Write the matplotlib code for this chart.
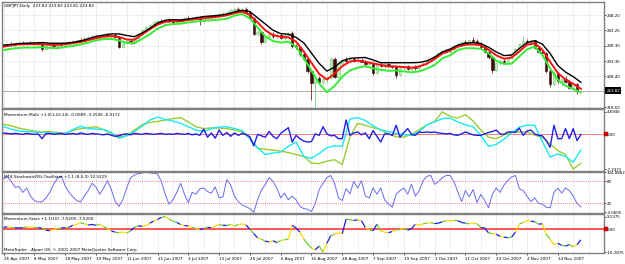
import numpy as np
import matplotlib
matplotlib.use("Agg")
import matplotlib.pyplot as plt
import matplotlib.transforms as mtransforms
from matplotlib.collections import LineCollection

plt.rcParams['font.family'] = ['DejaVu Sans']

# ---------------- data ----------------
opens = [238.3, 238.6, 238.9, 238.5, 238.8, 239.3, 238.9, 239.2, 239.0, 238.7,
         238.9, 237.3, 238.4, 238.6, 238.3, 238.8, 238.6, 239.1, 239.4, 239.8,
         240.2, 239.9, 240.7, 241.0, 241.3, 240.9, 241.6, 241.8, 241.5, 241.9,
         241.2, 238.0, 239.2, 239.8, 239.4, 240.8, 242.0, 243.3, 244.3, 245.1,
         245.9, 246.3, 246.1, 246.5, 246.2, 246.0, 246.6, 246.9, 247.2, 246.8,
         247.3, 247.5, 246.2, 247.4, 247.8, 247.6, 248.2, 248.6, 248.9, 249.3,
         249.7, 250.1, 249.9, 250.2, 249.1, 247.2, 242.0, 242.8, 239.5, 241.2,
         242.0, 241.3, 241.9, 240.8, 241.7, 242.4, 238.2, 238.0, 235.5, 234.0,
         230.0, 226.4, 228.0, 226.6, 227.6, 227.9, 234.0, 228.3, 232.6, 233.8,
         233.4, 233.9, 233.5, 233.8, 233.1, 232.4, 232.8, 229.6, 232.2, 231.8,
         232.3, 231.6, 231.4, 229.0, 231.2, 231.6, 230.8, 231.5, 231.0, 232.1,
         232.7, 233.5, 234.2, 235.1, 235.9, 236.6, 236.3, 237.2, 238.1, 238.8,
         239.5, 239.1, 240.2, 239.8, 238.9, 237.8, 236.3, 234.5, 230.4, 232.8,
         233.5, 233.1, 234.4, 235.6, 237.2, 238.7, 239.9, 239.4, 240.0, 237.7,
         236.4, 236.0, 230.1, 226.0, 229.4, 226.8, 227.6, 226.6, 224.8, 226.1,
         223.82]
highs = [238.9, 239.2, 239.4, 239.1, 239.6, 239.7, 239.5, 239.8, 239.6, 239.3,
         239.2, 238.6, 239.0, 239.1, 239.0, 239.3, 239.4, 239.7, 240.2, 240.6,
         240.9, 241.0, 241.4, 241.8, 241.9, 241.9, 242.3, 242.5, 242.4, 242.3,
         241.5, 239.6, 240.2, 240.4, 241.0, 242.3, 243.6, 244.6, 245.4, 246.3,
         246.7, 246.9, 246.8, 247.1, 246.8, 246.9, 247.3, 247.6, 247.8, 247.5,
         247.9, 247.9, 247.6, 248.0, 248.3, 248.5, 248.9, 249.2, 249.6, 250.0,
         250.5, 250.8, 250.6, 250.7, 249.4, 247.6, 243.3, 243.0, 241.6, 242.4,
         242.6, 242.3, 242.5, 242.2, 242.8, 242.9, 239.0, 238.3, 235.9, 234.4,
         230.6, 228.8, 228.6, 228.0, 228.4, 234.5, 234.6, 233.0, 234.4, 234.6,
         234.2, 234.5, 234.3, 234.4, 233.8, 233.2, 233.1, 232.6, 232.9, 232.6,
         232.8, 232.2, 231.8, 231.6, 232.0, 232.2, 231.9, 232.0, 232.4, 233.0,
         233.8, 234.5, 235.4, 236.2, 237.0, 237.3, 237.6, 238.4, 239.2, 239.9,
         240.3, 240.6, 241.2, 240.5, 239.6, 238.3, 236.8, 235.0, 233.2, 234.0,
         234.3, 234.6, 235.8, 237.5, 239.0, 241.3, 240.6, 240.4, 240.3, 238.2,
         237.0, 236.4, 230.9, 230.0, 229.8, 228.0, 228.4, 227.4, 226.6, 226.4,
         223.83]
lows = [237.8, 238.2, 238.3, 238.0, 238.4, 238.6, 238.5, 238.7, 238.4, 238.0,
        236.6, 237.0, 237.9, 238.0, 237.8, 238.3, 238.2, 238.6, 239.0, 239.3,
        239.6, 239.5, 240.1, 240.5, 240.6, 240.5, 241.0, 241.2, 240.8, 240.9,
        237.4, 237.6, 238.7, 238.9, 239.0, 240.5, 241.8, 243.0, 243.8, 244.7,
        245.2, 245.7, 245.5, 245.9, 245.6, 245.5, 246.1, 246.3, 246.6, 246.2,
        246.7, 245.0, 245.8, 246.9, 247.2, 247.1, 247.7, 248.0, 248.3, 248.8,
        249.2, 249.5, 249.1, 248.8, 246.8, 241.6, 241.5, 239.0, 239.1, 240.6,
        240.9, 240.7, 240.4, 240.3, 241.0, 237.7, 237.3, 235.0, 233.6, 229.5,
        220.8, 218.6, 226.0, 225.8, 226.4, 227.4, 227.8, 227.9, 232.0, 233.0,
        232.7, 233.2, 232.8, 233.0, 232.0, 231.8, 229.0, 229.2, 231.4, 231.2,
        231.3, 231.0, 227.8, 228.6, 230.6, 230.3, 230.2, 230.5, 230.6, 231.6,
        232.2, 233.0, 233.8, 234.6, 235.3, 235.8, 235.9, 236.8, 237.6, 238.3,
        238.8, 238.7, 239.5, 238.6, 237.4, 235.9, 234.0, 229.4, 230.0, 232.2,
        232.6, 232.7, 234.0, 235.2, 236.7, 238.2, 238.9, 238.6, 237.2, 235.8,
        235.5, 229.6, 225.0, 225.6, 226.2, 225.4, 226.3, 224.4, 224.2, 222.6,
        223.81]
closes = [238.6, 238.9, 238.5, 238.8, 239.3, 238.9, 239.2, 239.0, 238.7, 238.9,
          237.3, 238.4, 238.6, 238.3, 238.8, 238.6, 239.1, 239.4, 239.8, 240.2,
          239.9, 240.7, 241.0, 241.3, 240.9, 241.6, 241.8, 241.5, 241.9, 241.2,
          238.0, 239.2, 239.8, 239.4, 240.8, 242.0, 243.3, 244.3, 245.1, 245.9,
          246.3, 246.1, 246.5, 246.2, 246.0, 246.6, 246.9, 247.2, 246.8, 247.3,
          247.5, 246.2, 247.4, 247.8, 247.6, 248.2, 248.6, 248.9, 249.3, 249.7,
          250.1, 249.9, 250.2, 249.1, 247.2, 242.0, 242.8, 239.5, 241.2, 242.0,
          241.3, 241.9, 240.8, 241.7, 242.4, 238.2, 238.0, 235.5, 234.0, 230.0,
          226.4, 228.0, 226.6, 227.6, 227.9, 234.0, 228.3, 232.6, 233.8, 233.4,
          233.9, 233.5, 233.8, 233.1, 232.4, 232.8, 229.6, 232.2, 231.8, 232.3,
          231.6, 231.4, 229.0, 231.2, 231.6, 230.8, 231.5, 231.0, 232.1, 232.7,
          233.5, 234.2, 235.1, 235.9, 236.6, 236.3, 237.2, 238.1, 238.8, 239.5,
          239.1, 240.2, 239.8, 238.9, 237.8, 236.3, 234.5, 230.4, 232.8, 233.5,
          233.1, 234.4, 235.6, 237.2, 238.7, 239.9, 239.4, 240.0, 237.7, 236.4,
          236.0, 230.1, 226.0, 229.4, 226.8, 227.6, 226.6, 224.8, 226.1, 223.8,
          223.82]

# envelope lines, one value every second bar
ma_black = [238.5, 238.7, 239.0, 239.1, 239.2, 239.3, 239.1, 239.1, 239.1, 239.4,
            239.8, 240.5, 241.3, 241.7, 242.1, 242.1, 241.6, 241.2, 242.4, 243.9,
            245.6, 246.5, 246.7, 246.6, 246.9, 247.3, 247.7, 247.9, 248.1, 248.5,
            249.2, 249.7, 249.3, 247.3, 245.3, 243.3, 242.2, 242.0, 241.0, 239.2,
            235.9, 232.6, 230.1, 231.4, 233.4, 234.2, 234.4, 234.5, 233.7, 232.8,
            232.8, 232.8, 232.8, 232.8, 232.9, 233.4, 234.6, 236.3, 237.2, 238.5,
            239.1, 239.3, 239.0, 237.8, 236.3, 235.1, 235.3, 237.4, 239.3, 239.9,
            238.8, 235.8, 231.9, 229.8, 228.3, 226.5]
ma_red = [238.0, 238.4, 238.7, 238.8, 238.8, 238.8, 238.6, 238.6, 238.8, 239.1,
          239.5, 240.1, 240.7, 241.2, 241.4, 241.1, 240.3, 240.2, 241.9, 243.6,
          245.1, 246.0, 246.2, 246.2, 246.6, 246.9, 247.2, 247.4, 247.7, 248.1,
          248.8, 249.3, 248.2, 245.8, 243.3, 241.7, 241.2, 241.0, 239.6, 236.4,
          232.8, 229.2, 227.4, 229.3, 231.7, 233.2, 233.5, 233.1, 232.6, 232.1,
          231.6, 231.6, 231.4, 231.2, 231.6, 232.5, 234.0, 235.8, 236.7, 238.0,
          238.6, 238.7, 238.5, 237.0, 235.2, 234.1, 234.5, 236.4, 238.6, 239.1,
          237.0, 233.1, 229.5, 227.4, 226.0, 224.4]
ma_green = [236.9, 237.3, 237.6, 237.7, 237.7, 237.8, 237.6, 237.5, 237.9, 238.2,
            238.7, 239.3, 240.0, 240.4, 240.5, 240.0, 239.2, 239.1, 240.5, 242.0,
            243.8, 244.9, 245.3, 245.4, 245.8, 246.1, 246.4, 246.5, 246.7, 247.0,
            248.0, 248.5, 247.1, 244.2, 241.3, 239.8, 239.3, 239.6, 238.0, 234.3,
            230.3, 226.1, 223.3, 225.3, 228.3, 230.3, 231.2, 231.7, 231.0, 230.5,
            230.2, 230.3, 230.0, 229.7, 230.0, 230.9, 232.1, 234.2, 235.2, 236.9,
            237.5, 237.5, 237.3, 235.9, 233.5, 232.4, 232.5, 234.8, 237.1, 238.0,
            235.3, 231.0, 227.3, 225.4, 224.3, 223.2]

# Momentum-Multi: period 1 (every bar), periods 10 / 14 (every second bar)
mom_1 = [0.3, 0.2, 0.1, 0.2, 0.1, 0.0, 0.2, 0.1, 0.0, 0.1,
         -0.9, 0.1, 0.2, 0.0, 0.1, 0.2, 0.0, 0.1, 0.2, 0.0,
         0.3, 0.1, 0.0, 0.2, 0.1, 0.0, -0.1, 0.1, -0.2, -0.4,
         -0.3, 0.0, 0.1, -0.1, 0.2, 0.1, 0.0, 0.2, 0.1, 0.0,
         0.1, 0.2, 0.0, 0.1, 0.0, 0.2, 0.1, 0.0, 0.2, -0.1,
         0.1, -0.2, 1.1, -0.6, 0.3, -0.8, 0.9, -0.2, 0.4, -0.4,
         0.3, -0.2, 0.2, 0.0, -0.5, -2.4, 0.0, -0.3, -0.6, 0.6,
         -0.4, -0.9, 0.2, 0.8, 1.4, -1.6, -0.2, -0.9, -1.4, -1.6,
         -1.5, 0.1, -0.2, 1.6, 0.1, -0.3, -0.2, -0.9, -0.9, 3.0,
         -0.2, 0.3, 0.5, -0.1, 0.3, -0.9, 0.8, -0.4, -1.6, 0.1,
         0.1, -0.2, 1.9, -0.6, 0.4, 1.2, 0.0, -0.2, 0.5, 0.4,
         0.5, 0.4, 0.5, 0.3, 0.2, 0.1, 0.2, -0.1, -0.2, 0.1,
         0.5, 0.2, -0.1, -0.2, -0.2, 0.1, 0.4, 0.6, 0.9, 0.1,
         0.0, 0.5, 0.5, 0.4, 1.3, -0.2, 0.7, 0.9, 0.1, -0.2,
         -0.3, -1.3, -2.7, 1.9, -0.9, -0.9, 1.2, -0.9, 1.2, -1.3,
         -0.0089]
mom_10 = [1.6, 1.1, 0.7, 0.6, 0.5, 0.4, 0.3, 0.2, 0.15, 1.0,
          1.7, 1.2, 1.1, 1.0, 0.4, -0.8, -0.3, 0.6, 1.7, 3.0,
          3.6, 3.1, 2.8, 2.3, 1.6, 0.9, 0.6, 1.2, 1.5, 1.6,
          1.2, 0.8, -0.9, -2.8, -4.2, -3.9, -3.7, -2.5, -1.6, -4.6,
          -5.0, -4.0, -2.8, -2.4, -2.5, 3.2, 3.5, 2.9, 1.8, 0.9,
          0.6, 0.2, -0.1, -0.2, 0.6, 2.0, 2.6, 3.3, 3.4, 2.6,
          2.0, 1.6, -0.3, -2.5, -2.1, -1.0, 0.3, 1.5, 1.9, 1.9,
          -1.5, -4.7, -4.1, -4.6, -5.8, -3.2506]
mom_14 = [2.1, 1.8, 1.3, 1.0, 0.7, 0.5, 0.6, 0.4, 0.2, 0.8,
          1.2, 1.4, 1.6, 1.0, 0.2, -0.6, -0.2, 0.9, 2.0, 2.5,
          2.7, 3.0, 3.3, 3.5, 2.6, 1.6, 1.2, 1.35, 1.3, 1.2,
          0.9, 0.5, -0.9, -2.9, -3.1, -3.3, -3.5, -3.8, -4.2, -4.6,
          -6.0, -6.1, -5.6, -5.3, -6.3, -0.5, 2.3, 1.9, 1.4, 1.0,
          0.1, -0.5, -0.6, 0.0, 1.0, 2.0, 2.7, 4.6946, 3.8, 3.4,
          4.1, 2.8, 0.9, -0.6, -0.9, -0.1, 0.5, 0.5, 0.5, -0.2,
          -0.6, -2.0, -3.4, -4.2, -7.2471, -6.0172]

stoch_rsi = [87, 93, 80, 64, 66, 50, 62, 40, 28, 24,
             24, 35, 50, 72, 88, 95, 68, 50, 38, 28,
             24, 40, 55, 75, 65, 45, 62, 82, 58, 25,
             12, 30, 62, 90, 97, 101, 103, 104.8862, 103, 102,
             100, 80, 45, 18, 30, 50, 75, 45, 22, 50,
             45, 60, 62, 52, 48, 65, 35, 38, 85, 70,
             40, 25, 16, 11, 6, -4.0605, 30, 56, 72, 90,
             80, 62, 35, 48, 30, 40, 30, 12, 6, 4,
             -2, 20, 58, 75, 90, 96, 75, 35, 28, 60,
             46, 80, 62, 82, 40, 35, 62, 45, 62, 30,
             18, 10, 45, 55, 62, 45, 72, 40, 55, 82,
             94, 96, 72, 80, 90, 96, 96, 80, 52, 25,
             55, 38, 58, 22, 45, 28, 8, 45, 62, 50,
             70, 82, 92, 96, 60, 55, 40, 25, 35, 20,
             18, 10, 8, 50, 62, 48, 62, 55, 40, 20,
             10.5229]

stars = [1.5, 1.8, 1.4, 1.2, 1.0, 1.3, 1.6, 1.8, 1.5, 1.2,
         0.8, -0.5, -1.0, 0.0, 0.5, 1.0, 1.2, 1.5, 3.0, 3.5,
         4.8, 4.0, 3.2, 3.5, 3.0, 3.8, 2.0, 0.5, -1.0, -2.0,
         -2.4, -1.8, -2.6, -1.0, 1.5, 2.6, 2.2, 2.8, 4.5, 6.0,
         7.2, 8.7, 9.1375, 7.5, 6.0, 5.0, 3.5, 2.8, 2.5, 1.5,
         0.5, -0.2, 0.8, 1.5, 1.2, 2.5, 3.5, 3.0, 2.8, 3.6,
         2.5, 3.5, 4.0, 3.2, 0.0, -3.0, -6.1, -7.0, -8.5, -9.0,
         -8.2, -9.5, -8.0, -7.5, -7.0, 3.0, 1.0, -2.0, -7.0, -10.5,
         -13.5, -14.7, -12.0, -16.2875, -10.0, -4.5, -3.5, -2.5, -3.0, 7.5,
         7.0, 6.5, 6.8, 6.3, 1.3, 0.0, -1.1, 3.8, -1.0, -2.0,
         -2.4, -1.5, -0.5, 0.0, 0.8, -0.5, 0.5, 3.8, 3.0, 4.0,
         4.5, 4.8, 4.2, 4.5, 5.5, 6.3, 6.0, 6.5, 6.3, 5.0,
         4.5, 4.0, 4.5, 4.2, 1.3, 1.0, -2.5, -3.0, -3.5, -5.0,
         -5.5, -6.0, -5.5, -2.0, 3.8, 5.0, 6.3, 6.0, 5.5, 3.8,
         4.0, -3.6, -7.0, -11.0, -10.0, -11.5, -12.0, -11.0, -12.5, -11.0,
         -7.52]
# y = yellow, g = green, b = blue, one letter per segment
star_colors = ("bygbbgyygb" "gbyygbgbyy" "gybbgygybg" "yygbgbyyby" "bgyggbybyg"
               "ybgbyygbgy" "gyybgbygby" "bgygybbygg" "ybgybgyybg" "gbybygbgyy"
               "bygygbbyyg" "ygbbgyygbb" "gyygbbgyby" "bgbygyybgb" "ygyybgbgyb")

dates = ['26 Apr 2007', '8 May 2007', '18 May 2007', '30 May 2007', '11 Jun 2007',
         '21 Jun 2007', '3 Jul 2007', '13 Jul 2007', '25 Jul 2007', '6 Aug 2007',
         '16 Aug 2007', '28 Aug 2007', '7 Sep 2007', '19 Sep 2007', '1 Oct 2007',
         '11 Oct 2007', '23 Oct 2007', '2 Nov 2007', '14 Nov 2007']

price_ticks = [248.20, 243.25, 238.30, 233.35, 228.40, 218.50]
bid = 223.82

# ---------------- figure ----------------
W, H = 625, 264
fig = plt.figure(figsize=(W / 100, H / 100), dpi=100)
FS = 3.0     # general text
FS_R = 2.85  # right-hand scale labels


def panel(top, bottom):
    return fig.add_axes([2 / W, 1 - bottom / H, 602 / W, (bottom - top) / H])


ax1 = panel(2, 108)
ax2 = panel(109, 171)
ax3 = panel(172, 213)
ax4 = panel(214, 253)

bars = np.arange(len(closes))
half_bars = bars[::2]

for ax in (ax1, ax2, ax3, ax4):
    ax.set_xlim(-0.4, 156.0)
    for s in ax.spines.values():
        s.set_color('#808080')
        s.set_linewidth(1.0)
    for g in range(0, 157, 4):
        ax.axvline(g, color='#c8c8c8', lw=0.5, ls=(0, (1, 1.5)), zorder=0)
    ax.tick_params(axis='y', left=False, labelleft=False, right=True,
                   labelright=True, length=1.2, width=0.5, pad=0.6,
                   labelsize=FS_R, colors='black')
    ax.tick_params(axis='x', bottom=False, labelbottom=False)


def right_box(ax, y, text, fc, tc):
    tr = mtransforms.blended_transform_factory(ax.transAxes, ax.transData)
    ax.text(1.004, y, text, transform=tr, color=tc, fontsize=FS_R, va='center',
            ha='left', clip_on=False,
            bbox=dict(boxstyle='square,pad=0.3', fc=fc, ec='none'))


def zero_marker(ax):
    tr = mtransforms.blended_transform_factory(ax.transAxes, ax.transData)
    ax.plot([1.003], [0], marker='s', ms=2.4, color='#e00000', mec='#900000',
            mew=0.3, transform=tr, clip_on=False, zorder=10)


# ---- main price panel ----
o = np.array(opens); h = np.array(highs); l = np.array(lows); c = np.array(closes)
up = c >= o
ax1.set_ylim(218.2, 252.4)
for p in price_ticks:
    ax1.axhline(p, color='#c8c8c8', lw=0.5, ls=(0, (1, 1.5)), zorder=0)
ax1.axhline(bid, color='#b0b0b0', lw=0.7, zorder=1)
ax1.vlines(bars[up], l[up], h[up], color='#7ccc7c', lw=0.6, zorder=2)
ax1.vlines(bars[~up], l[~up], h[~up], color='#7a2a2a', lw=0.6, zorder=2)
ax1.bar(bars[up], (c - o)[up], bottom=o[up], width=0.6, color='#c4f0bc',
        edgecolor='#6cc46c', linewidth=0.4, zorder=3)
ax1.bar(bars[~up], (o - c)[~up], bottom=c[~up], width=0.6, color='#3a0c0c',
        edgecolor='#3a0c0c', linewidth=0.4, zorder=3)
ax1.plot(half_bars, ma_green, color='#33ee33', lw=1.4, zorder=4)
ax1.plot(half_bars, ma_red, color='#ff1010', lw=1.4, zorder=5)
ax1.plot(half_bars, ma_black, color='black', lw=1.0, zorder=5)
ax1.set_yticks(price_ticks)
ax1.set_yticklabels([f'{p:.2f}' for p in price_ticks])
right_box(ax1, bid, f'{bid:.2f}', 'black', 'white')
ax1.text(0.004, 0.985, 'GBPJPY,Daily  223.82 223.83 223.81 223.82',
         transform=ax1.transAxes, va='top', ha='left', fontsize=FS)

# ---- Momentum-Multi ----
ax2.set_ylim(-7.65, 5.3)
ax2.axhline(0, color='#ff8080', lw=0.7, zorder=1)
ax2.plot(half_bars, mom_14, color='#9acd32', lw=1.0, zorder=2)
ax2.plot(half_bars, mom_10, color='#1ae8f5', lw=1.0, zorder=3)
ax2.plot(bars, mom_1, color='#2020e6', lw=1.0, zorder=4)
ax2.set_yticks([4.6946, 0, -7.2471])
ax2.set_yticklabels(['4.6946', '0.00', '-7.2471'])
zero_marker(ax2)
ax2.text(0.004, 0.94, 'Momentum-Multi +1.0(1,10,14) -0.0089 -3.2506 -6.0172',
         transform=ax2.transAxes, va='top', ha='left', fontsize=FS)

# ---- Stochastic RSI ----
ax3.set_ylim(-6, 105.5)
for lev in (80, 20):
    ax3.axhline(lev, color='#ff6060', lw=0.5, ls=(0, (1.5, 1.5)), zorder=1)
ax3.plot(bars, stoch_rsi, color='#6a6af0', lw=0.7, zorder=2)
ax3.set_yticks([104.8862, 80, 20, -4.0605])
ax3.set_yticklabels(['104.8862', '80', '20', '-4.0605'])
ax3.text(0.004, 0.93, 'MT4-StochasticRSI-Oscillator +1.1 (8,5,3) 10.5229',
         transform=ax3.transAxes, va='top', ha='left', fontsize=FS)

# ---- Momentum-Stars ----
ax4.set_ylim(-17, 11.1)
ax4.axhline(0, color='#ff2a2a', lw=1.1, zorder=1)
sv = np.array(stars)
segs = [[(bars[k], sv[k]), (bars[k + 1], sv[k + 1])] for k in range(len(sv) - 1)]
cmap = {'y': '#ffd700', 'g': '#66cc33', 'b': '#1a1aee'}
ax4.add_collection(LineCollection(segs, colors=[cmap[ch] for ch in star_colors],
                                  linewidths=0.9, zorder=2))
ax4.set_yticks([9.1375, 0, -16.2875])
ax4.set_yticklabels(['9.1375', '0.00', '-16.2875'])
zero_marker(ax4)
ax4.text(0.004, 0.93, 'Momentum-Stars +1.1(10) -7.5200 -7.5200',
         transform=ax4.transAxes, va='top', ha='left', fontsize=FS)
ax4.text(0.004, 0.03, 'MetaTrader - Alpari UK, \u00a9 2001-2007 MetaQuotes Software Corp.',
         transform=ax4.transAxes, va='bottom', ha='left', fontsize=FS)

ax4.set_xticks(bars[::8][:len(dates)])
ax4.set_xticklabels(dates, ha='left')
ax4.tick_params(axis='x', bottom=True, labelbottom=True, length=1.5, width=0.5,
                pad=1.5, labelsize=FS)

fig.savefig('out.png', dpi=100, facecolor='white')
